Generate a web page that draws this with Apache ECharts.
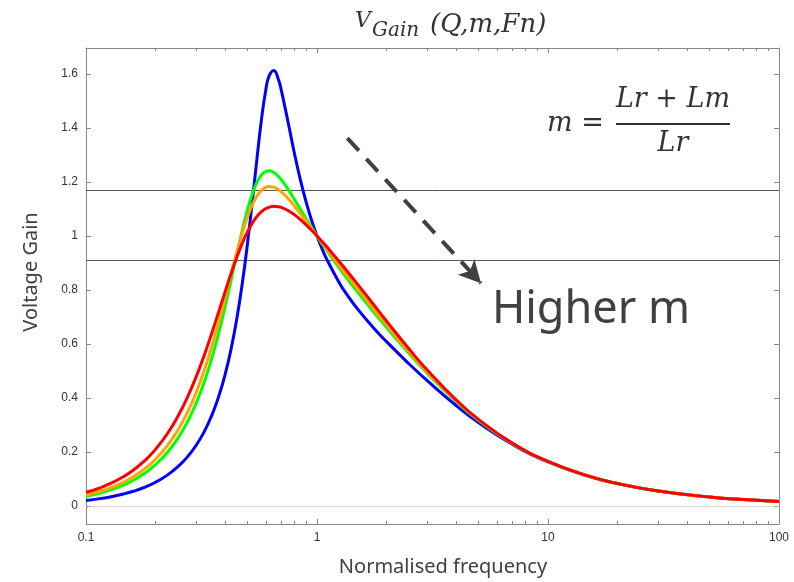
<!DOCTYPE html>
<html>
<head>
<meta charset="utf-8">
<title>Voltage Gain</title>
<script src="https://cdn.jsdelivr.net/npm/echarts@6/dist/echarts.min.js"></script>
<style>
	html, body { margin: 0; padding: 0; background: #fff; }
	#main { width: 794px; height: 582px; }
</style>
</head>
<body>
<div id="main"></div>
<script>
'use strict';
// normalised frequency (Fn)
var freq = [0.1, 0.115, 0.13, 0.145, 0.16, 0.18, 0.2, 0.225, 0.25, 0.275,
	0.3, 0.325, 0.35, 0.375, 0.4, 0.425, 0.45, 0.475, 0.5, 0.525,
	0.55, 0.575, 0.6, 0.62, 0.65, 0.68, 0.7, 0.75, 0.8, 0.85,
	0.9, 0.95, 1, 1.05, 1.1, 1.25, 1.35, 1.5, 1.75, 2,
	2.5, 3, 4, 5, 7, 10, 15, 20, 30, 50,
	70, 100];
// voltage gain, one array per curve (lowest m first)
var gainBlue = [0.0205, 0.0273, 0.0352, 0.0442, 0.0544, 0.0699, 0.0880, 0.1143, 0.1454, 0.1820,
	0.2250, 0.2754, 0.3347, 0.4044, 0.4863, 0.5826, 0.6951, 0.8249, 0.9713, 1.1294,
	1.2885, 1.4315, 1.5395, 1.5919, 1.6129, 1.5805, 1.5410, 1.4200, 1.3024, 1.2028,
	1.1214, 1.0549, 1.0, 0.9541, 0.9151, 0.8261, 0.7819, 0.7288, 0.6613, 0.6085,
	0.5268, 0.4639, 0.3722, 0.3088, 0.2285, 0.1633, 0.1101, 0.0829, 0.0554, 0.0333,
	0.0238, 0.0167];
var gainGreen = [0.0358, 0.0477, 0.0615, 0.0772, 0.0950, 0.1220, 0.1532, 0.1984, 0.2511, 0.3119,
	0.3812, 0.4593, 0.5457, 0.6392, 0.7377, 0.8375, 0.9340, 1.0221, 1.0974, 1.1567,
	1.1992, 1.2258, 1.2387, 1.2412, 1.2350, 1.2208, 1.2084, 1.1725, 1.1342, 1.0970,
	1.0621, 1.0298, 1.0, 0.9725, 0.9471, 0.8807, 0.8427, 0.7924, 0.7213, 0.6616,
	0.5657, 0.4919, 0.3872, 0.3175, 0.2321, 0.1646, 0.1105, 0.0830, 0.0554, 0.0333,
	0.0238, 0.0167];
var gainOrange = [0.0409, 0.0544, 0.0700, 0.0878, 0.1079, 0.1384, 0.1733, 0.2235, 0.2814, 0.3472,
	0.4208, 0.5017, 0.5884, 0.6790, 0.7703, 0.8587, 0.9403, 1.0117, 1.0706, 1.1160,
	1.1483, 1.1690, 1.1800, 1.1831, 1.1806, 1.1719, 1.1637, 1.1386, 1.1101, 1.0811,
	1.0528, 1.0257, 1.0, 0.9757, 0.9527, 0.8905, 0.8537, 0.8040, 0.7322, 0.6711,
	0.5724, 0.4967, 0.3897, 0.3189, 0.2326, 0.1648, 0.1105, 0.0831, 0.0555, 0.0333,
	0.0238, 0.0167];
var gainRed = [0.0507, 0.0674, 0.0865, 0.1081, 0.1324, 0.1687, 0.2097, 0.2675, 0.3322, 0.4031,
	0.4791, 0.5584, 0.6389, 0.7180, 0.7930, 0.8617, 0.9222, 0.9735, 1.0153, 1.0481,
	1.0725, 1.0898, 1.1010, 1.1064, 1.1096, 1.1084, 1.1056, 1.0940, 1.0780, 1.0596,
	1.0401, 1.0201, 1.0, 0.9801, 0.9606, 0.9046, 0.8696, 0.8207, 0.7479, 0.6848,
	0.5820, 0.5033, 0.3931, 0.3208, 0.2334, 0.1650, 0.1106, 0.0831, 0.0555, 0.0334,
	0.0238, 0.0167];
// tick labels
var yTicks = [0, 0.2, 0.4, 0.6, 0.8, 1, 1.2, 1.4, 1.6];
// horizontal reference lines
var gainLines = [1.1667, 0.911];
// "higher m" arrow, from / to (tip)
var arrowFrom = [1.353, 1.362];
var arrowTo = [5.13, 0.825];

function toPairs(values) {
	return freq.map(function(f, i) {
		return [f, values[i]];
	});
}

function curve(name, values, color) {
	return {
		name: name,
		type: 'line',
		data: toPairs(values),
		symbol: 'none',
		smooth: true,
		lineStyle: { color: color, width: 3 },
		itemStyle: { color: color }
	};
}

var axisGray = '#888';
var serif = '"DejaVu Serif", "Liberation Serif", serif';

var logAxis = function(position, showLabel) {
	return {
		type: 'log',
		logBase: 10,
		min: 0.1,
		max: 100,
		position: position,
		axisLine: { show: true, onZero: false, lineStyle: { color: axisGray, width: 1 } },
		axisTick: { show: true, inside: true, length: 5, lineStyle: { color: axisGray } },
		minorTick: { show: true, splitNumber: 9, length: 3, lineStyle: { color: axisGray } },
		axisLabel: { show: showLabel, margin: 8, color: '#333', fontSize: 12, fontFamily: 'Liberation Sans' },
		splitLine: { show: false },
		minorSplitLine: { show: false }
	};
};

var valueAxis = function(position, showLabel) {
	return {
		type: 'value',
		min: -0.0667,
		max: 1.696,
		position: position,
		axisLine: { show: true, onZero: false, lineStyle: { color: axisGray, width: 1 } },
		axisTick: { show: true, inside: true, length: 5, customValues: yTicks, lineStyle: { color: axisGray } },
		axisLabel: { show: showLabel, customValues: yTicks, margin: 8, color: '#333', fontSize: 12, fontFamily: 'Liberation Sans' },
		splitLine: { show: false }
	};
};

var blue = curve('m3', gainBlue, '#0000ff');
blue.markLine = {
	silent: true,
	symbol: 'none',
	z: 1,
	label: { show: false },
	lineStyle: { color: '#555', width: 1, type: 'solid' },
	data: [
		{ yAxis: gainLines[0] },
		{ yAxis: gainLines[1] },
		{ yAxis: 0, lineStyle: { color: '#bbb', width: 1, type: 'dotted' } }
	]
};

var red = curve('m6', gainRed, '#ff0000');
red.markLine = {
	silent: true,
	symbol: ['none', 'arrow'],
	symbolSize: [17, 22],
	label: { show: false },
	lineStyle: { color: '#404040', width: 4, type: [17, 11] },
	itemStyle: { color: '#404040' },
	data: [[{ coord: arrowFrom }, { coord: arrowTo }]]
};

var option = {
	animation: false,
	backgroundColor: '#fff',
	grid: { left: 86, right: 15, top: 48, bottom: 58, outerBoundsMode: 'none' },
	xAxis: [logAxis('bottom', true), logAxis('top', false)],
	yAxis: [valueAxis('left', true), valueAxis('right', false)],
	series: [
		blue,
		curve('m4.5', gainGreen, '#00ff00'),
		curve('m5', gainOrange, '#ffa500'),
		red
	],
	graphic: [
		// title V_Gain (Q,m,Fn)
		{ type: 'text', x: 355, y: 21, style: { text: 'V', font: 'italic 22px ' + serif, fill: '#333', align: 'left', verticalAlign: 'middle' } },
		{ type: 'text', x: 372, y: 31, style: { text: 'Gain', font: 'italic 20px ' + serif, fill: '#333', align: 'left', verticalAlign: 'middle' } },
		{ type: 'text', x: 430, y: 25, style: { text: '(Q,m,Fn)', font: 'italic 26px ' + serif, fill: '#333', align: 'left', verticalAlign: 'middle' } },
		// m = (Lr + Lm) / Lr
		{ type: 'text', x: 547, y: 124, style: { text: 'm =', font: 'italic 27px ' + serif, fill: '#333', align: 'left', verticalAlign: 'middle' } },
		{ type: 'text', x: 673, y: 100, style: { text: 'Lr + Lm', font: 'italic 27px ' + serif, fill: '#333', align: 'center', verticalAlign: 'middle' } },
		{ type: 'line', shape: { x1: 616, y1: 124, x2: 730, y2: 124 }, style: { stroke: '#333', lineWidth: 2 } },
		{ type: 'text', x: 673, y: 144, style: { text: 'Lr', font: 'italic 27px ' + serif, fill: '#333', align: 'center', verticalAlign: 'middle' } },
		{ type: 'text', x: 591, y: 310, style: { text: 'Higher m', font: '45px "Noto Sans"', fill: '#404040', align: 'center', verticalAlign: 'middle' } },
		// axis names
		{ type: 'text', x: 443, y: 567, style: { text: 'Normalised frequency', font: '20px "Noto Sans"', fill: '#404040', align: 'center', verticalAlign: 'middle' } },
		{ type: 'text', x: 31, y: 272, rotation: Math.PI / 2, style: { text: 'Voltage Gain', font: '20px "Noto Sans"', fill: '#404040', align: 'center', verticalAlign: 'middle' } }
	]
};

var myChart = echarts.init(document.getElementById('main'));
myChart.setOption(option);
</script>
</body>
</html>
